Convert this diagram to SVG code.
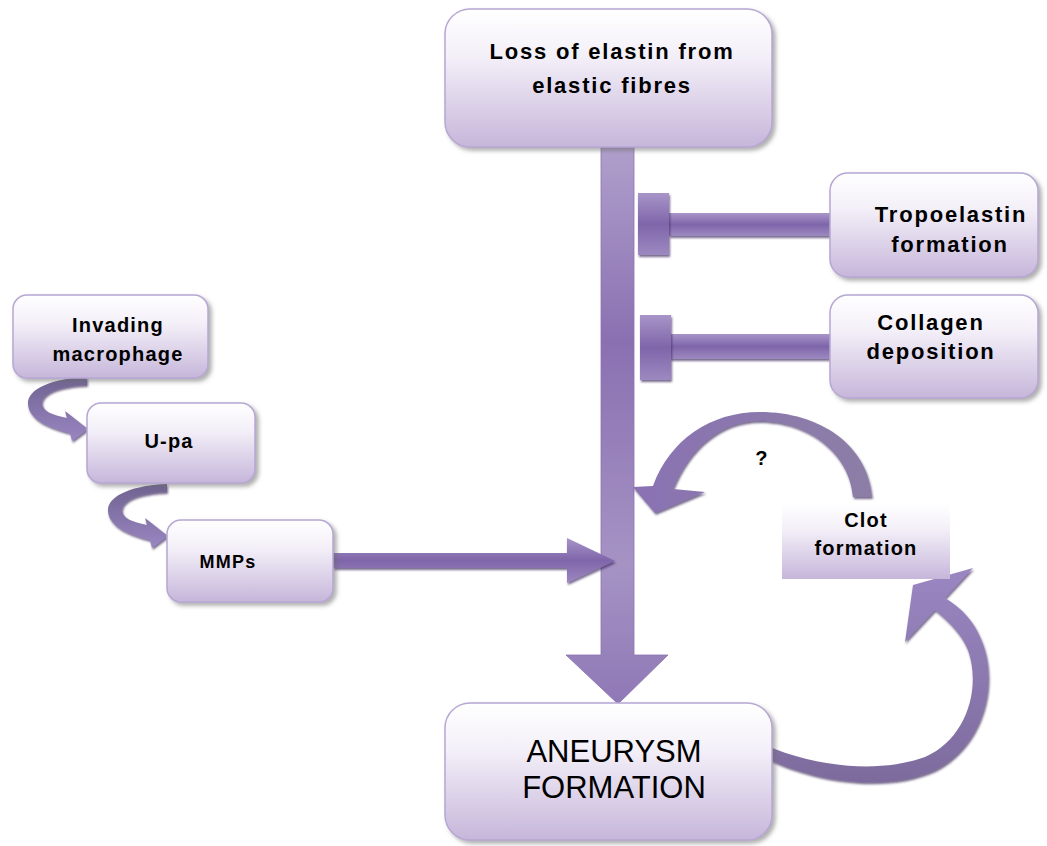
<svg xmlns="http://www.w3.org/2000/svg" width="1047" height="846" viewBox="0 0 1047 846">
<defs>
<linearGradient id="boxFill" x1="0" y1="0" x2="0" y2="1">
<stop offset="0" stop-color="#ffffff"/>
<stop offset="0.35" stop-color="#f3eff8"/>
<stop offset="1" stop-color="#c6b6da"/>
</linearGradient>
<linearGradient id="shaftV" gradientUnits="userSpaceOnUse" x1="0" y1="147" x2="0" y2="704">
<stop offset="0" stop-color="#b09fcc"/>
<stop offset="0.35" stop-color="#8a70b1"/>
<stop offset="0.75" stop-color="#a693c4"/>
<stop offset="1" stop-color="#8f78b6"/>
</linearGradient>
<linearGradient id="barH" x1="0" y1="0" x2="0" y2="1">
<stop offset="0" stop-color="#a895c8"/>
<stop offset="0.5" stop-color="#7f65aa"/>
<stop offset="1" stop-color="#9d89c0"/>
</linearGradient>
<linearGradient id="smallArr" x1="0" y1="0" x2="0" y2="1">
<stop offset="0" stop-color="#6f6290"/>
<stop offset="1" stop-color="#9a86c2"/>
</linearGradient>
<linearGradient id="arcTop" x1="0" y1="0" x2="1" y2="0">
<stop offset="0" stop-color="#8a72b3"/>
<stop offset="1" stop-color="#8c7ea6"/>
</linearGradient>
<linearGradient id="arcLow" x1="0" y1="1" x2="0" y2="0">
<stop offset="0" stop-color="#7d6b9d"/>
<stop offset="1" stop-color="#9a87c2"/>
</linearGradient>
<filter id="sh" x="-10%" y="-10%" width="125%" height="130%">
<feDropShadow dx="3" dy="3" stdDeviation="2" flood-color="#6d6d6d" flood-opacity="0.55"/>
</filter>
<filter id="sh2" x="-10%" y="-10%" width="125%" height="130%">
<feDropShadow dx="1" dy="2" stdDeviation="1" flood-color="#3c2a5c" flood-opacity="0.7"/>
</filter>
<path id="curl" d="M 87 377 C 55 378, 27 388, 28 404 C 29 420, 50 428, 70 433 L 72 441 L 88 429 L 65 411 L 67 418 C 52 415, 42 411, 42 403 C 43 392, 60 386, 87 385 Z"/>
<style>
.box{fill:url(#boxFill);stroke:#b7a7d3;stroke-width:1.5;filter:url(#sh)}
.flat{fill:url(#boxFill);stroke:none}
.t{font-family:"Liberation Sans",Arial,sans-serif;font-weight:bold;fill:#000;text-anchor:middle}
.big{font-size:22px;letter-spacing:1.8px}
.sm{font-size:20px;letter-spacing:1.2px}
.reg{font-family:"Liberation Sans",Arial,sans-serif;font-size:31px;fill:#000;text-anchor:middle}
.bar{fill:url(#barH);filter:url(#sh2)}
</style>
</defs>
<rect width="1047" height="846" fill="#ffffff"/>

<g id="connectors">
<!-- main vertical arrow -->
<path d="M 601 147 L 634 147 L 634 655 L 668 655 L 618 704 L 566 655 L 601 655 Z" fill="url(#shaftV)" stroke="#8a75b0" stroke-width="0.8"/>
<!-- inhibitor bars -->
<rect class="bar" x="669" y="213" width="161" height="23"/>
<rect class="bar" x="638" y="193" width="31" height="62"/>
<rect class="bar" x="670" y="334" width="160" height="25"/>
<rect class="bar" x="640" y="315" width="31" height="65"/>
<!-- MMPs arrow -->
<path d="M 333 553 L 567 553 L 567 538 L 615 561 L 567 583 L 567 568 L 333 568 Z" fill="url(#barH)" filter="url(#sh2)"/>
<!-- small curls -->
<use href="#curl" fill="url(#smallArr)" filter="url(#sh2)"/>
<use href="#curl" transform="translate(80,107)" fill="url(#smallArr)" filter="url(#sh2)"/>
<!-- upper arc (clot to shaft) -->
<path d="M 872 497 C 868 445, 820 412, 760 412 C 710 412, 670 440, 653 486 L 633 487 L 655 513 L 705 492 L 673 489 C 690 448, 720 421, 760 421 C 810 421, 850 455, 853 497 Z" fill="url(#arcTop)" filter="url(#sh2)"/>
<!-- lower arc (aneurysm to clot) -->
<path d="M 757 753 C 800 778, 880 795, 935 770 C 985 745, 1000 680, 980 637 C 974 622, 962 608, 945 598 L 973 568 L 913 585 L 905 642 L 935 610 C 950 622, 962 635, 968 650 C 982 690, 965 740, 925 757 C 875 775, 810 765, 765 745 Z" fill="url(#arcLow)" filter="url(#sh2)"/>
</g>

<g id="node-loss">
<rect class="box" x="445" y="9" width="327" height="138" rx="25"/>
<text class="t big" x="612" y="59">Loss of elastin from</text>
<text class="t big" x="612" y="93">elastic fibres</text>
</g>

<g id="node-tropoelastin">
<rect class="box" x="830" y="173" width="208" height="104" rx="18"/>
<text class="t big" x="951" y="222">Tropoelastin</text>
<text class="t big" x="950" y="252">formation</text>
</g>

<g id="node-collagen">
<rect class="box" x="830" y="295" width="208" height="103" rx="18"/>
<text class="t big" x="931" y="330">Collagen</text>
<text class="t big" x="931" y="359">deposition</text>
</g>

<g id="node-macrophage">
<rect class="box" x="13" y="295" width="195" height="83" rx="14"/>
<text class="t sm" x="118" y="332">Invading</text>
<text class="t sm" x="118" y="361">macrophage</text>
</g>

<g id="node-upa">
<rect class="box" x="87" y="403" width="168" height="80" rx="14"/>
<text class="t sm" x="169" y="448">U-pa</text>
</g>

<g id="node-mmps">
<rect class="box" x="167" y="520" width="166" height="82" rx="14"/>
<text class="t" x="228" y="568" style="font-size:18px;letter-spacing:1.2px">MMPs</text>
</g>

<g id="node-clot">
<rect class="flat" x="782" y="503" width="168" height="76"/>
<text class="t sm" x="866" y="527">Clot</text>
<text class="t sm" x="866" y="555">formation</text>
</g>

<g id="node-aneurysm">
<rect class="box" x="445" y="703" width="327" height="137" rx="25"/>
<text class="reg" x="614" y="762">ANEURYSM</text>
<text class="reg" x="614" y="798">FORMATION</text>
</g>

<g id="label-question">
<text class="t sm" x="762" y="465">?</text>
</g>
</svg>
